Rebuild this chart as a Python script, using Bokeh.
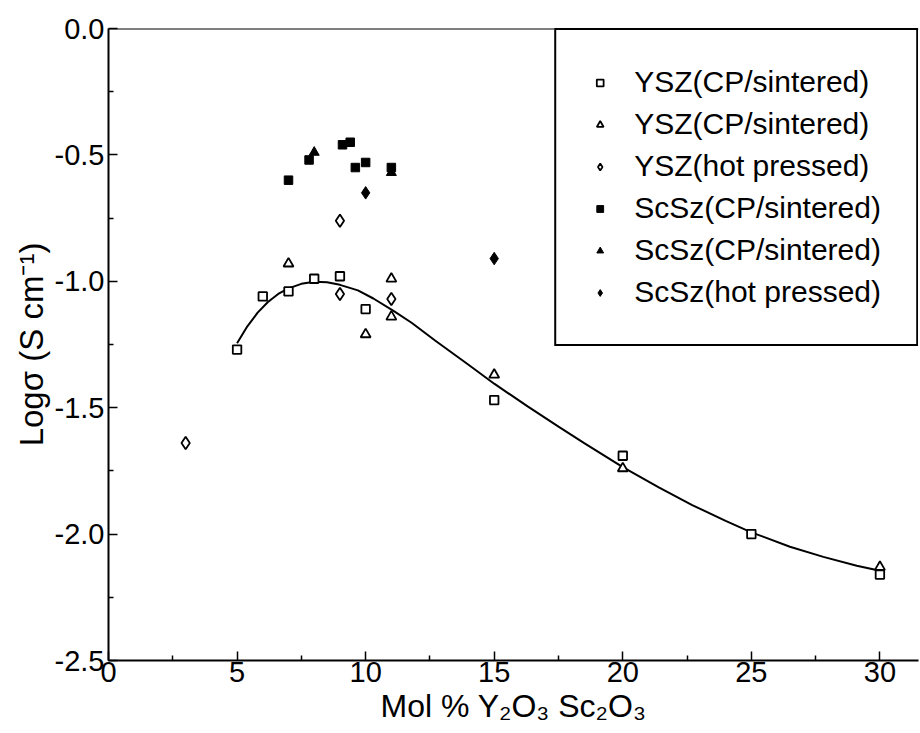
from bokeh.plotting import figure
from bokeh.models import Range1d, FixedTicker, Span, Legend, LegendItem
from bokeh.embed import file_html
from bokeh.resources import INLINE

# Conductivity of zirconia electrolytes vs dopant content (log sigma, S/cm)
ysz_cp1_x = [5, 6, 7, 8, 9, 10, 15, 20, 25, 30]
ysz_cp1_y = [-1.27, -1.06, -1.04, -0.99, -0.98, -1.11, -1.47, -1.69, -2.00, -2.16]

ysz_cp2_x = [7, 10, 11, 11, 15, 20, 30]
ysz_cp2_y = [-0.93, -1.21, -0.99, -1.14, -1.37, -1.74, -2.13]

ysz_hp_x = [3, 9, 9, 11]
ysz_hp_y = [-1.64, -0.76, -1.05, -1.07]

scsz_cp1_x = [7, 7.8, 9.1, 9.4, 9.6, 10, 11]
scsz_cp1_y = [-0.60, -0.52, -0.46, -0.45, -0.55, -0.53, -0.55]

scsz_cp2_x = [8, 11]
scsz_cp2_y = [-0.49, -0.57]

scsz_hp_x = [10, 15]
scsz_hp_y = [-0.65, -0.91]

# guide curve through the YSZ data
fit_x = [5.0, 5.4, 5.8, 6.2, 6.6, 7.0, 7.5, 8.0, 8.5, 9.0, 9.7, 10.3, 11.1, 11.8,
         12.7, 14.0, 15.0, 16.3, 17.5, 18.5, 20.0, 21.4, 22.7, 24.0, 25.0, 26.5,
         27.8, 29.1, 30.0]
fit_y = [-1.245, -1.178, -1.124, -1.082, -1.05, -1.028, -1.01, -1.002, -1.004, -1.014,
         -1.036, -1.068, -1.118, -1.165, -1.234, -1.33, -1.405, -1.495, -1.575, -1.64,
         -1.735, -1.815, -1.885, -1.948, -1.993, -2.05, -2.09, -2.125, -2.145]

x_ticks = [0, 5, 10, 15, 20, 25, 30]
x_tick_labels = ["0", "5", "10", "15", "20", "25", "30"]
y_ticks = [0.0, -0.5, -1.0, -1.5, -2.0, -2.5]
y_tick_labels = ["0.0", "-0.5", "-1.0", "-1.5", "-2.0", "-2.5"]

legend_labels = ["YSZ(CP/sintered)", "YSZ(CP/sintered)", "YSZ(hot pressed)",
                 "ScSz(CP/sintered)", "ScSz(CP/sintered)", "ScSz(hot pressed)"]

FONT = "Liberation Sans"
INK = "black"

p = figure(width=920, height=733,
           x_range=Range1d(0, 31.5), y_range=Range1d(-2.5, 0.0),
           output_backend="svg", toolbar_location=None,
           min_border_left=108, min_border_right=2,
           min_border_top=28, min_border_bottom=73,
           background_fill_color="white", border_fill_color="white",
           outline_line_color=None)
p.grid.visible = False

xa = p.below[0]
ya = p.left[0]

for ax in (xa, ya):
    ax.axis_line_width = 2
    ax.axis_line_color = INK
    ax.major_tick_in = 9
    ax.major_tick_out = 0
    ax.minor_tick_in = 5
    ax.minor_tick_out = 0
    ax.major_tick_line_width = 1.5
    ax.minor_tick_line_width = 1.5
    ax.major_tick_line_color = INK
    ax.minor_tick_line_color = INK
    ax.major_label_text_font = FONT
    ax.major_label_text_font_size = "29px"
    ax.major_label_text_color = INK
    ax.axis_label_text_font = FONT
    ax.axis_label_text_font_size = "32px"
    ax.axis_label_text_font_style = "normal"
    ax.axis_label_text_color = INK

xa.ticker = FixedTicker(ticks=x_ticks,
                        minor_ticks=[(a + b) / 2 for a, b in zip(x_ticks[:-1], x_ticks[1:])])
xa.major_label_overrides = dict(zip(x_ticks, x_tick_labels))
xa.major_label_standoff = 1
xa.axis_label = "Mol % Y\u2082O\u2083 Sc\u2082O\u2083"
xa.axis_label_standoff = 3

ya.ticker = FixedTicker(ticks=y_ticks,
                        minor_ticks=[(a + b) / 2 for a, b in zip(y_ticks[:-1], y_ticks[1:])])
ya.major_label_overrides = dict(zip(y_ticks, y_tick_labels))
ya.major_label_standoff = 4
ya.axis_label = "Log\u03c3 (S cm\u207b\u00b9)"
ya.axis_label_text_font_size = "33px"
ya.axis_label_standoff = 2

# top edge of the frame
p.add_layout(Span(location=0.0, dimension="width", line_color=INK, line_width=2))

p.line(fit_x, fit_y, line_color=INK, line_width=2)

open_kw = dict(line_color=INK, fill_color="white", line_width=1.8)
fill_kw = dict(line_color=INK, fill_color=INK, line_width=1)

r1 = p.scatter(ysz_cp1_x, ysz_cp1_y, marker="square", size=8.5, **open_kw)
r2 = p.scatter(ysz_cp2_x, ysz_cp2_y, marker="triangle", size=10, **open_kw)
r3 = p.scatter(ysz_hp_x, ysz_hp_y, marker="diamond", size=12.5, **open_kw)
r4 = p.scatter(scsz_cp1_x, scsz_cp1_y, marker="square", size=8.5, **fill_kw)
r5 = p.scatter(scsz_cp2_x, scsz_cp2_y, marker="triangle", size=10, **fill_kw)
r6 = p.scatter(scsz_hp_x, scsz_hp_y, marker="diamond", size=12.5, **fill_kw)

items = [LegendItem(label=lab, renderers=[r])
         for lab, r in zip(legend_labels, [r1, r2, r3, r4, r5, r6])]
legend = Legend(items=items, location="top_right", margin=0, padding=35,
                spacing=8, label_height=30, glyph_height=17, glyph_width=17,
                label_standoff=26, label_text_font=FONT,
                label_text_font_size="30px", label_text_color=INK,
                border_line_color=INK, border_line_width=2, border_line_alpha=1.0,
                background_fill_color="white", background_fill_alpha=1.0)
p.add_layout(legend, "center")

open("out.html", "w").write(file_html(p, INLINE))
